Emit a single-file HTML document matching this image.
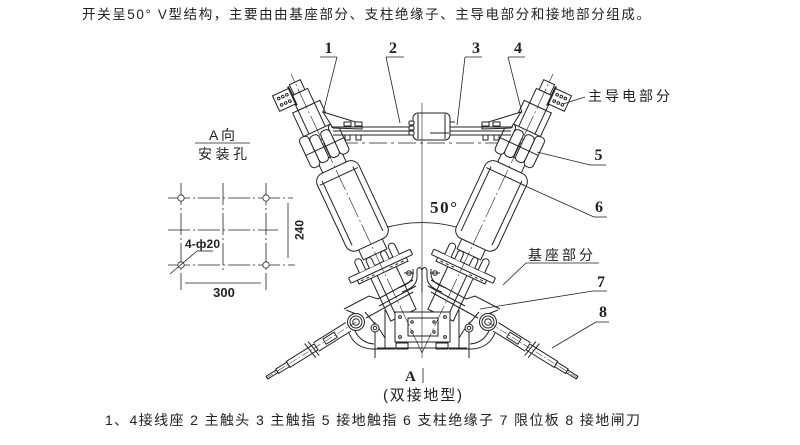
<!DOCTYPE html>
<html><head><meta charset="utf-8"><style>
html,body{margin:0;padding:0;background:#fff;}
svg{display:block;}
.cn{font-family:"Liberation Sans","Noto Sans CJK SC",sans-serif;fill:#222;}
.nb{font-family:"Liberation Serif",serif;font-weight:bold;fill:#222;}
.sb{font-family:"Liberation Sans",sans-serif;font-weight:bold;fill:#222;}
</style></head><body>
<svg width="800" height="445" viewBox="0 0 800 445" xmlns="http://www.w3.org/2000/svg">
<defs>
<g id="col" stroke="#222" stroke-width="1" fill="#fff">
  <rect x="-14" y="-96" width="28" height="52"/>
  <line x1="-7" y1="-92" x2="-7" y2="-46"/>
  <rect x="-34" y="-101" width="68" height="6" rx="1"/>
  <rect x="-27" y="-95" width="54" height="4"/>
  <path d="M-24,-93 l3,0 M-18,-93 l3,0 M-12,-93 l3,0 M8,-93 l3,0 M14,-93 l3,0 M20,-93 l3,0" fill="none"/>
  <path d="M-22,-101 V-111 a3.5,3.5 0 0 1 7,0 V-101"/>
  <path d="M15,-101 V-111 a3.5,3.5 0 0 1 7,0 V-101"/>
  <path d="M-11,-101 V-108 a3,3 0 0 1 6,0 V-101"/>
  <path d="M5,-101 V-108 a3,3 0 0 1 6,0 V-101"/>
  <rect x="-13" y="-128" width="26" height="17"/>
  <rect x="-23" y="-207" width="46" height="85" rx="9"/>
  <line x1="-17" y1="-200" x2="-17" y2="-129"/>
  <line x1="17" y1="-200" x2="17" y2="-129"/>
  <line x1="-21" y1="-197" x2="21" y2="-197"/>
  <rect x="-13" y="-218" width="26" height="11"/>
  <rect x="-21" y="-248" width="10" height="33" rx="4"/>
  <rect x="11" y="-248" width="10" height="33" rx="4"/>
  <rect x="-11" y="-245" width="10" height="29" rx="4"/>
  <rect x="1" y="-245" width="10" height="29" rx="4"/>
  <line x1="-21" y1="-230" x2="21" y2="-230"/>
  <rect x="-15" y="-274" width="30" height="26"/>
  <line x1="-9" y1="-274" x2="-9" y2="-248"/>
  <line x1="9" y1="-274" x2="9" y2="-248"/>
  <rect x="-9" y="-290" width="18" height="16"/>
  <rect x="-6" y="-301" width="12" height="11"/>
  <rect x="-26" y="-298" width="18" height="17"/>
  <circle cx="-21.5" cy="-293" r="1.3"/><circle cx="-17" cy="-293" r="1.3"/><circle cx="-12.5" cy="-293" r="1.3"/>
  <circle cx="-21.5" cy="-286" r="1.3"/><circle cx="-17" cy="-286" r="1.3"/><circle cx="-12.5" cy="-286" r="1.3"/>
  <line x1="-8" y1="-300" x2="-8" y2="-279" stroke-width="2"/>
</g>
<g id="baseL" fill="none" stroke="#222" stroke-width="1">
  <path d="M344,309 L369,296 L378,299 L413,280"/>
  <path d="M366,318 L413,292"/>
  <path d="M379,306 L416,286"/>
  <path d="M402,292 Q417,287 417,277 L417,270 Q419.5,265 422,270 L422,292"/>
  <path d="M398,288 Q413,283 413,274 L413,269"/>
  <circle cx="409" cy="273" r="2.3"/>
  <line x1="404" y1="273" x2="414" y2="273"/>
  <line x1="385" y1="310" x2="385" y2="349"/>
  <line x1="375" y1="322" x2="375" y2="358"/>
  <path d="M349,333 Q355,348 372,349 L395,349"/>
  <path d="M355,331 Q361,343 374,344"/>
  <path d="M346,310 L356,314"/>
  <path d="M365,312 L380,330 L385,338"/>
  <rect x="396" y="343" width="12" height="6" fill="#fff"/>
  <circle cx="356" cy="322" r="8.5" fill="#fff"/>
  <circle cx="356" cy="322" r="6"/>
  <circle cx="356" cy="322" r="3.3"/>
  <circle cx="375" cy="328" r="4" fill="#fff"/>
  <circle cx="375" cy="328" r="1.8"/>
  <g transform="translate(356,322) rotate(148)">
    <path d="M9,-5 L47,-5 M9,5 L47,5"/>
    <rect x="24" y="-3" width="13" height="6"/>
    <rect x="47" y="-3.5" width="33" height="7" fill="#fff"/>
    <path d="M49,-9 L51,9 M53,-9 L55,9"/>
    <rect x="80" y="-2.6" width="13" height="5.2" fill="#fff"/>
    <rect x="93" y="-1.6" width="12" height="3.2" fill="#fff"/>
    <line x1="0" y1="0" x2="108" y2="0" stroke-dasharray="8 2 2 2" stroke-width="0.5"/>
  </g>
</g>
</defs>

<text class="cn" x="82" y="19" font-size="13.5" textLength="568" lengthAdjust="spacing">开关呈50° V型结构，主要由由基座部分、支柱绝缘子、主导电部分和接地部分组成。</text>

<g stroke="#222" stroke-width="0.8" fill="none">
  <line x1="168" y1="198" x2="293" y2="198" stroke-dasharray="22 3 2 3"/>
  <line x1="168" y1="230" x2="278" y2="230" stroke-dasharray="22 3 2 3"/>
  <line x1="168" y1="265" x2="295" y2="265" stroke-dasharray="22 3 2 3"/>
  <line x1="181" y1="183" x2="181" y2="290" stroke-dasharray="22 3 2 3"/>
  <line x1="266" y1="183" x2="266" y2="290" stroke-dasharray="22 3 2 3"/>
  <line x1="223" y1="183" x2="223" y2="270" stroke-dasharray="22 3 2 3"/>
  <circle cx="181" cy="198" r="3.2" fill="#fff"/>
  <circle cx="266" cy="198" r="3.2" fill="#fff"/>
  <circle cx="181" cy="265" r="3.2" fill="#fff"/>
  <circle cx="266" cy="265" r="3.2" fill="#fff"/>
  <line x1="288" y1="203" x2="288" y2="258"/>
  <line x1="185" y1="283" x2="261" y2="283"/>
  <line x1="197" y1="251" x2="213" y2="251"/>
  <line x1="197" y1="251" x2="170" y2="274"/>
  <line x1="195" y1="143" x2="250" y2="143"/>
</g>
<text class="cn" x="209" y="140" font-size="14" textLength="26" lengthAdjust="spacing">A向</text>
<text class="cn" x="198" y="159" font-size="14" textLength="49" lengthAdjust="spacing">安装孔</text>
<text class="sb" transform="translate(303.5,230) rotate(-90)" text-anchor="middle" font-size="12">240</text>
<text class="sb" x="224" y="297" text-anchor="middle" font-size="13">300</text>
<text class="sb" x="185" y="248" font-size="12" textLength="35" lengthAdjust="spacing">4-ф20</text>

<g stroke="#222" stroke-width="0.8" fill="none">
  <path d="M362,237 A132,132 0 0 1 482,237"/>
  <line x1="340" y1="143" x2="535" y2="143" stroke-dasharray="18 4 3 4"/>
</g>

<use href="#col" transform="translate(422,355) rotate(-25)"/>
<use href="#col" transform="translate(422,355) scale(-1,1) rotate(-25)"/>

<g stroke="#222" stroke-width="1" fill="#fff">
  <path d="M323,112 L362,124 L362,129 L333,128 Z"/>
  <path d="M521,112 L482,124 L482,129 L511,128 Z"/>
  <line x1="331" y1="127" x2="413" y2="127"/>
  <line x1="333" y1="131" x2="413" y2="131"/>
  <line x1="333" y1="135" x2="413" y2="135"/>
  <line x1="450" y1="127" x2="513" y2="127"/>
  <line x1="450" y1="131" x2="511" y2="131"/>
  <line x1="450" y1="135" x2="511" y2="135"/>
  <rect x="344" y="122" width="7" height="4"/><rect x="355" y="122" width="7" height="4"/>
  <rect x="345" y="135" width="5" height="5"/><rect x="356" y="135" width="5" height="5"/>
  <rect x="482" y="122" width="7" height="4"/><rect x="493" y="122" width="7" height="4"/>
  <rect x="483" y="135" width="5" height="5"/><rect x="494" y="135" width="5" height="5"/>
  <rect x="413" y="113" width="37" height="27" rx="5"/>
  <rect x="409" y="121" width="5" height="4" rx="1"/>
  <rect x="409" y="126" width="5" height="4" rx="1"/>
  <rect x="409" y="131" width="5" height="4" rx="1"/>
  <line x1="418" y1="114" x2="418" y2="139"/>
  <line x1="445" y1="114" x2="445" y2="139"/>
  <line x1="430" y1="133" x2="449" y2="133"/>
  <line x1="450" y1="122" x2="455" y2="122"/>
  <line x1="450" y1="131" x2="455" y2="131"/>
</g>

<use href="#baseL"/>
<use href="#baseL" transform="translate(844,0) scale(-1,1)"/>
<g stroke="#222" stroke-width="1" fill="#fff">
  <rect x="395" y="312" width="55" height="30"/>
  <rect x="408" y="318" width="30" height="18"/>
  <circle cx="400" cy="317" r="1.4"/><circle cx="445" cy="317" r="1.4"/>
  <circle cx="400" cy="337" r="1.4"/><circle cx="445" cy="337" r="1.4"/>
  <circle cx="412" cy="322" r="1.2"/><circle cx="434" cy="322" r="1.2"/>
  <circle cx="412" cy="332" r="1.2"/><circle cx="434" cy="332" r="1.2"/>
  <line x1="377" y1="348" x2="467" y2="348" fill="none"/>
</g>

<g stroke="#222" stroke-width="0.6" fill="none">
  <line x1="422" y1="103" x2="422" y2="358"/>
  <line x1="422" y1="353" x2="291" y2="74" stroke-dasharray="22 3 2 3"/>
  <line x1="422" y1="353" x2="553" y2="74" stroke-dasharray="22 3 2 3"/>
  <line x1="423" y1="368" x2="423" y2="383" stroke-width="0.8"/>
</g>

<g stroke="#222" stroke-width="0.8" fill="none">
  <line x1="320" y1="57" x2="337" y2="57"/><line x1="337" y1="57" x2="323" y2="113"/>
  <line x1="386" y1="57" x2="404" y2="57"/><line x1="386" y1="57" x2="400" y2="123"/>
  <line x1="465" y1="57" x2="482" y2="57"/><line x1="465" y1="57" x2="457" y2="125"/>
  <line x1="508" y1="57" x2="525" y2="57"/><line x1="508" y1="57" x2="522" y2="113"/>
  <line x1="585" y1="97" x2="563" y2="104"/>
  <line x1="537" y1="152" x2="590" y2="165"/><line x1="590" y1="165" x2="606" y2="165"/>
  <line x1="523" y1="185" x2="594" y2="217"/><line x1="594" y1="217" x2="607" y2="217"/>
  <line x1="526" y1="263" x2="599" y2="263"/><line x1="526" y1="263" x2="503" y2="285"/>
  <line x1="593" y1="291" x2="607" y2="291"/><line x1="593" y1="291" x2="480" y2="309"/>
  <line x1="596" y1="322" x2="609" y2="322"/><line x1="596" y1="322" x2="552" y2="348"/>
</g>

<text class="nb" x="328.5" y="53" text-anchor="middle" font-size="16">1</text>
<text class="nb" x="393" y="53" text-anchor="middle" font-size="16">2</text>
<text class="nb" x="476" y="53" text-anchor="middle" font-size="16">3</text>
<text class="nb" x="518" y="53" text-anchor="middle" font-size="16">4</text>
<text class="nb" x="598.5" y="160" text-anchor="middle" font-size="16">5</text>
<text class="nb" x="599" y="212" text-anchor="middle" font-size="16">6</text>
<text class="nb" x="601" y="287" text-anchor="middle" font-size="16">7</text>
<text class="nb" x="603" y="317" text-anchor="middle" font-size="16">8</text>
<text class="nb" x="430" y="213" font-size="17" textLength="27" lengthAdjust="spacing">50°</text>
<text class="nb" x="405" y="381" font-size="15">A</text>

<text class="cn" x="588" y="101" font-size="14" textLength="82" lengthAdjust="spacing">主导电部分</text>
<text class="cn" x="528" y="260" font-size="14" textLength="65" lengthAdjust="spacing">基座部分</text>
<text class="cn" x="383" y="400" font-size="15" textLength="79" lengthAdjust="spacing">(双接地型)</text>
<text class="cn" x="105" y="425" font-size="14" textLength="535" lengthAdjust="spacing">1、4接线座 2 主触头 3 主触指 5 接地触指 6 支柱绝缘子 7 限位板 8 接地闸刀</text>
</svg>
</body></html>
